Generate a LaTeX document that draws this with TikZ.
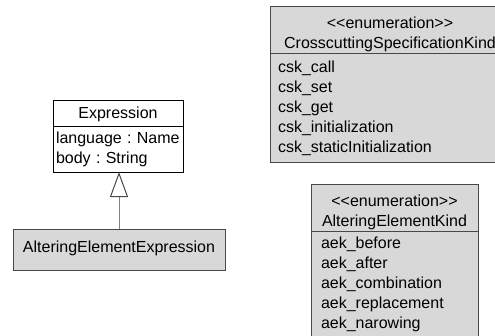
\documentclass[tikz,border=0pt]{standalone}
\usepackage{fontspec}
\setmainfont{Liberation Sans}
\frenchspacing
\usetikzlibrary{positioning, arrows.meta}
\definecolor{boxFill}{RGB}{216,216,216}
\definecolor{boxLine}{RGB}{72,72,72}
\definecolor{linkColor}{RGB}{130,130,130}
\newcommand{\stereo}[1]{{<}{<}#1{>}{>}}
\newcommand{\topgap}[1]{\rule{0pt}{#1}}
\tikzstyle{compart} = [rectangle, draw=boxLine, fill=boxFill, line width=1pt, inner xsep=3pt, inner ysep=2pt, outer sep=0pt, font=\fontsize{16}{20}\selectfont]
\tikzstyle{header} = [compart, align=center]
\tikzstyle{plain} = [compart, draw=black, fill=white]
\tikzstyle{inherit} = [line width=1pt, linkColor, -{Triangle[open, length=25pt, width=18pt, color=boxLine]}]

\begin{document}
\begin{tikzpicture}[x=1pt, y=-1pt]
            \useasboundingbox (0,0) rectangle (495,335);
            \clip (0,0) rectangle (495,335);

            % Expression class
            \node[plain, anchor=north west, minimum width=130, minimum height=26, align=center] (expr) at (53,100) {\topgap{15pt}Expression};
            \node[plain, below=0pt of expr, minimum height=46, text width=124, align=left] (exprAttr) {language : Name\\body : String};

            % Subclass
            \node[compart, anchor=north west, minimum width=212, minimum height=41] (aee) at (13,229) {};
            \node[anchor=north, inner sep=0pt, font=\fontsize{16}{20}\selectfont] (aeeName) at ([yshift=-12pt]aee.north) {AlteringElementExpression};

            % Generalization
            \draw[inherit] (aee.north) -- (aee.north |- exprAttr.south);

            % Enumeration: crosscutting specification kinds
            \node[header, anchor=north west, minimum height=45, text width=234] (cskHead) at (270,6) {\topgap{20pt}\stereo{enumeration}\\CrosscuttingSpecificationKind};
            \node[compart, anchor=north west, minimum height=109, inner xsep=8pt, text width=224, align=left] (cskLits) at (cskHead.south west) {csk\_call\\csk\_set\\csk\_get\\csk\_initialization\\csk\_staticInitialization};

            % Enumeration: altering element kinds
            \node[header, anchor=north west, minimum height=47, text width=161] (aekHead) at (311,184) {\topgap{20pt}\stereo{enumeration}\\AlteringElementKind};
            \node[compart, below=0pt of aekHead, minimum height=106, inner xsep=10pt, text width=147, align=left] (aekLits) {aek\_before\\aek\_after\\aek\_combination\\aek\_replacement\\aek\_narowing};

        \end{tikzpicture}
\end{document}
